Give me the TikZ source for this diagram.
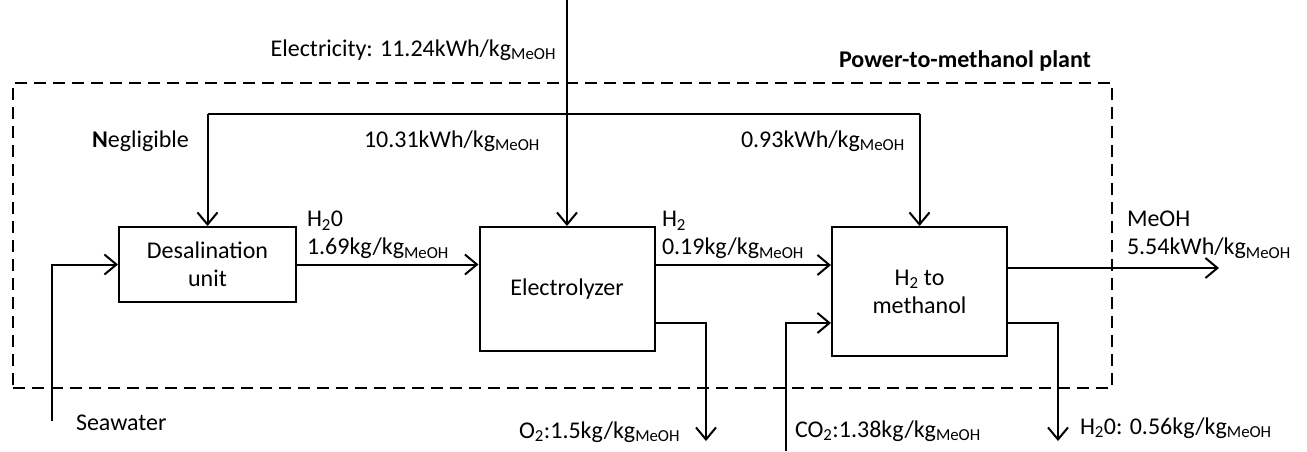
\documentclass[tikz,border=0pt]{standalone}
\usepackage{fontspec}
\setmainfont{Carlito}
\usetikzlibrary{arrows.meta}
\begin{document}
\begin{tikzpicture}[x=1pt,y=-1pt,line width=2pt,
  >={Straight Barb[length=12pt,width=20pt]},
  every node/.style={font=\fontsize{24}{28}\selectfont,inner sep=0pt},
  box/.style={draw,line width=2pt,align=center},
  lbl/.style={anchor=base west},
  lbl2/.style={anchor=north west,align=left},
  plantbox/.style={draw,dash pattern=on 12pt off 7pt,line width=2pt}]
\useasboundingbox (0,0) rectangle (1307,451);
% dashed plant boundary
\node[plantbox,minimum width=1099pt,minimum height=305pt] (plant) at (562.5,235.5) {};
\node[anchor=base,font=\fontsize{24}{28}\selectfont\bfseries] (plantlbl) at (965,67) {Power-to-methanol plant};
% process boxes
\node[box,minimum width=177pt,minimum height=75pt] (desal) at (207.5,264.5) {Desalination\\unit};
\node[box,minimum width=175pt,minimum height=124pt] (elec) at (567,289) {Electrolyzer};
\node[box,minimum width=175pt,minimum height=129pt] (h2m) at (919.5,291.5) {H\textsubscript{2} to\\methanol};
% coordinates
\coordinate (etop) at (567,0);
\coordinate (dl) at (207.5,114);
\coordinate (dr) at (919.5,114);
\coordinate (sw) at (52,421);
\coordinate (flowy) at (0,265);
\coordinate (lowy) at (0,323);
\coordinate (meoh) at (1219,268);
\coordinate (o2) at (706,441);
\coordinate (co2) at (786,451);
\coordinate (h2o) at (1058,441);
% connectors
\draw[->] (etop) -- (elec.north);
\draw (dl) -- (dr);
\draw[->] (dl) -- (desal.north);
\draw[->] (dr) -- (h2m.north);
\draw[->] (sw) |- (desal.west);
\draw[->] (desal.east) -- (elec.west |- desal.east);
\draw[->] (elec.east |- flowy) -- (h2m.west |- flowy);
\draw[->] (h2m.east |- meoh) -- (meoh);
\draw[->] (elec.east |- lowy) -| (o2);
\draw[->] (co2) |- (h2m.west |- lowy);
\draw[->] (h2m.east |- lowy) -| (h2o);
% labels
\node[anchor=base east] (lelec) at (557,56) {Electricity: 11.24kWh/kg\textsubscript{MeOH}};
\node[lbl] (lneg) at (91,147) {\textbf{N}egligible};
\node[lbl] (l1031) at (363,147) {10.31kWh/kg\textsubscript{MeOH}};
\node[lbl] (l093) at (740,147) {0.93kWh/kg\textsubscript{MeOH}};
\node[lbl2] (lh2o) at (306,210) {H\textsubscript{2}0\\1.69kg/kg\textsubscript{MeOH}};
\node[lbl2] (lh2) at (661,210) {H\textsubscript{2}\\0.19kg/kg\textsubscript{MeOH}};
\node[lbl2] (lmeoh) at (1126,210) {MeOH\\5.54kWh/kg\textsubscript{MeOH}};
\node[lbl] (lsea) at (75,430) {Seawater};
\node[lbl] (lo2) at (518,438) {O\textsubscript{2}:1.5kg/kg\textsubscript{MeOH}};
\node[lbl] (lco2) at (794,437) {CO\textsubscript{2}:1.38kg/kg\textsubscript{MeOH}};
\node[lbl] (lwat) at (1079,434) {H\textsubscript{2}0: 0.56kg/kg\textsubscript{MeOH}};
\end{tikzpicture}
\end{document}
